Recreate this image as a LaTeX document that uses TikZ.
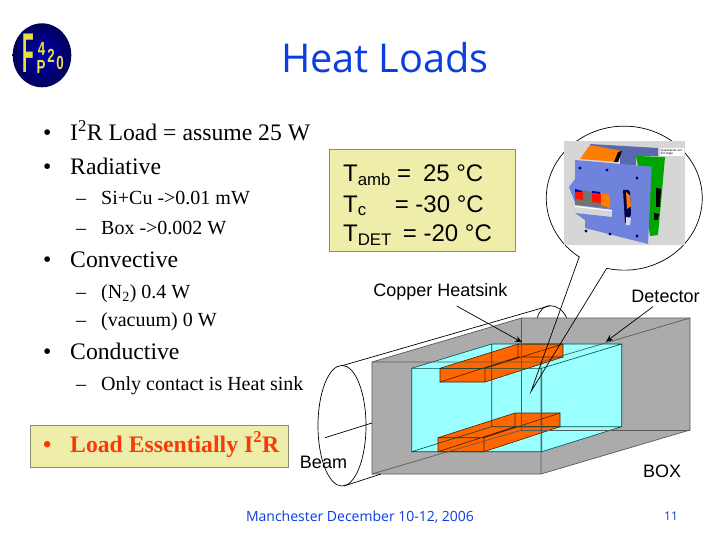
\documentclass[tikz,border=0pt]{standalone}
\usepackage{fontspec}
\setmainfont{Liberation Serif}
\setsansfont{Liberation Sans}
\newfontfamily\comicf{Open Sans}
\usetikzlibrary{arrows.meta}
\definecolor{boxgrey}{HTML}{ABABAB}
\definecolor{cyanf}{HTML}{99FFFF}
\definecolor{orangef}{HTML}{FF6600}
\definecolor{noteY}{HTML}{EEEEAA}
\definecolor{noteE}{HTML}{8C8C70}
\definecolor{titleblue}{HTML}{0B3EE0}
\definecolor{partblue}{HTML}{6F83DC}
\definecolor{loadred}{HTML}{F83A08}
\definecolor{logoy}{HTML}{E8E040}
\tikzset{
 bul/.style={anchor=base west,font=\fontsize{23.7}{26}\selectfont,inner sep=0pt},
 boldbul/.style={anchor=base west,font=\bfseries\fontsize{23.7}{26}\selectfont,inner sep=0pt,text=loadred},
 sub/.style={anchor=base west,font=\fontsize{20}{22}\selectfont,inner sep=0pt},
 lab/.style={anchor=base,font=\sffamily\fontsize{18}{20}\selectfont,inner sep=0pt},
 tmp/.style={anchor=base west,inner sep=0pt,font=\sffamily\fontsize{24}{26}\selectfont},
 logotxt/.style={inner sep=0pt,text=logoy,font=\sffamily\bfseries\fontsize{19}{19}\selectfont},
 edge/.style={draw=black!65,line width=.7pt},
 orng/.style={fill=orangef,draw=black!70!orangef,line width=.6pt},
 det/.style={draw=teal!60!black,line width=.6pt},
 arr/.style={-{Stealth[length=7pt,width=6pt]},line width=.7pt},
 wire/.style={line width=.7pt}
}
\begin{document}
\begin{tikzpicture}[x=1pt,y=-1pt]
\useasboundingbox (0,0) rectangle (720,540);
\fill[white] (0,0) rectangle (720,540);
% logo
\shade[inner color=blue!70!black,outer color=blue!35!black] (42,55.3) ellipse (29.3 and 32);
\node[logotxt] (logoF) at (28.5,53) {\scalebox{.34}[1]{\fontsize{56}{56}\selectfont F}};
\node[logotxt] (logoP) at (41,66.5) {\scalebox{.7}[1]{P}};
\node[logotxt] (logo4) at (41.5,49) {\scalebox{.7}[1]{4}};
\node[logotxt] (logo2) at (51,56) {\scalebox{.7}[1]{2}};
\node[logotxt] (logo0) at (60,62.5) {\scalebox{.7}[1]{0}};
% title + footer
\node[inner sep=0pt,anchor=base,text=titleblue,font=\comicf\fontsize{39.7}{42}\selectfont] (title) at (385,73) {Heat Loads};
\node[inner sep=0pt,anchor=base,text=titleblue,font=\comicf\fontsize{14}{16}\selectfont] (foot) at (360,521) {Manchester December 10-12, 2006};
\node[inner sep=0pt,anchor=base,text=titleblue,font=\comicf\fontsize{12}{14}\selectfont] (pg) at (671,520) {11};
% bullets
\foreach \y/\t in {141/{I\textsuperscript{2}R Load = assume 25 W},175/Radiative,267/Convective,359/Conductive}
  {\node[bul] at (43,\y) {•}; \node[bul] at (70,\y) {\t};}
\foreach \y/\t in {205/Si+Cu ->0.01 mW,234/Box ->0.002 W,298/(N\textsubscript{2}) 0.4 W,326/(vacuum) 0 W,390/Only contact is Heat sink}
  {\node[sub] at (76,\y) {–}; \node[sub] at (101,\y) {\t};}
% note boxes
\node[draw=noteE,fill=noteY,line width=1pt,minimum width=258pt,minimum height=42pt,inner sep=0pt] (load) at (159,446.7) {};
\node[boldbul] at (43,452) {•};
\node[boldbul] at (70,452) {Load Essentially I\textsuperscript{2}R};
\node[draw=noteE,fill=noteY,line width=1pt,minimum width=186.5pt,minimum height=102.5pt,inner sep=0pt] (temps) at (422.7,200.5) {};
\node[tmp] at (343,181.7) {T\textsubscript{amb}\hspace{6pt}=\hspace{12pt}25 °C};
\node[tmp] at (343,212) {T\textsubscript{c}\hspace{28pt}= -30 °C};
\node[tmp] at (343,241.7) {T\textsubscript{DET}\hspace{11pt}= -20 °C};
% cylinder rear arc
\draw[wire] (537.3,317.7) .. controls (540,309) and (545,305.7) .. (550,305.7) .. controls (557,305.7) and (563,310) .. (566.7,318);
% box
\fill[boxgrey] (372,362) -- (521.7,318) -- (690,318) -- (690,430) -- (541,474) -- (372,474) -- cycle;
% detector
\fill[cyanf] (411.7,368.3) -- (491.7,344) -- (621.7,344) -- (621.7,426.7) -- (541.7,451.7) -- (411.7,451.7) -- cycle;
% orange top
\filldraw[orng] (440,368.3) -- (518,344) -- (563,344) -- (563,357) -- (485,382) -- (440,382) -- cycle;
\draw[orng,fill=none] (440,368.3) -- (485,368.3) -- (563,344) (485,368.3) -- (485,382) (440,382) -- (518,357) -- (563,357) (518,344) -- (518,357);
% orange bottom
\filldraw[orng] (438,437.7) -- (515,413) -- (560,413) -- (560,426.7) -- (484,451.7) -- (438,451.7) -- cycle;
\draw[orng,fill=none] (438,437.7) -- (484,437.7) -- (560,413) (484,437.7) -- (484,451.7) (438,451.7) -- (515,426.7) -- (560,426.7) (515,413) -- (515,426.7);
% detector edges
\draw[det] (411.7,368.3) -- (491.7,344) -- (621.7,344) -- (621.7,426.7) -- (541.7,451.7) -- (411.7,451.7) -- cycle (491.7,344) -- (491.7,426.7) -- (621.7,426.7) (411.7,451.7) -- (491.7,426.7) (541.7,368.3) -- (621.7,344) (411.7,368.3) -- (541.7,368.3) -- (541.7,451.7);
% box edges
\draw[edge] (521.7,318) -- (690,318) -- (690,430) -- (541,474) -- (372,474) -- (372,362) -- cycle;
\draw[edge] (521.7,318) -- (521.7,430) -- (690,430);
\draw[edge] (372,474) -- (521.7,430);
\draw[edge] (372,362) -- (541,362) -- (690,318) (541,362) -- (541,474);
% cylinder
\draw[wire] (342,425.7) ellipse (24 and 60.3);
\coordinate (cylT) at (342,365.7);
\coordinate (cylTb) at (550,305.7);
\coordinate (cylB) at (344,486);
\coordinate (cylBb) at (381,474);
\draw[wire] (cylT) -- (cylTb);
\draw[wire] (cylB) -- (cylBb);
\coordinate (beamA) at (325,437.7);
\coordinate (beamB) at (372,423);
\draw[wire] (beamA) -- (beamB);
% labels
\node[lab] (cu) at (440.5,296.7) {Copper Heatsink};
\node[lab] (det) at (665.5,302) {Detector};
\node[lab] (beam) at (323.5,468) {Beam};
\node[lab] (boxl) at (662,477) {BOX};
\coordinate (cuT) at (522,342.3);
\coordinate (cuS) at (456.7,306);
\coordinate (detT) at (606,341.7);
\coordinate (detS) at (653,306.7);
\draw[arr] (cuS) -- (cuT);
\draw[arr] (detS) -- (detT);
% callout
\coordinate (tip) at (531,391.5);
\fill[white] (624,198) ellipse (78 and 72);
\draw[wire] (579.3,256.7) -- (tip) -- (606.7,268.3);
\draw[wire] (606.7,268.3) arc[start angle=103,end angle=-235,x radius=78,y radius=72];
% part image
\fill[black!16] (564.3,140.7) rectangle (685,245);
\fill[partblue!80!black] (590,144) -- (658,148) -- (658,156) -- (636,156) -- (636,165) -- (620,165) -- (620,155) -- (590,155) -- cycle;
\fill[orangef!85!yellow] (590,145) -- (622,151) -- (618,162) -- (580,159) -- cycle;
\fill[black] (618,152) -- (622,151) -- (618,162) -- (614,162) -- cycle;
\fill[green!65!black] (636,156) -- (665,157) -- (663,180) -- (658,235) -- (650,236) -- (645,200) -- cycle;
\fill[black] (656,188) -- (661,189) -- (660,207) -- (656,207) -- cycle;
\fill[black] (654,213) -- (659,214) -- (658,220) -- (654,220) -- cycle;
\fill[partblue] (575,160) -- (651.7,166.7) -- (648,244) -- (585,228) -- (585,220) -- (575,213) -- (612,217) -- (612,210) -- (576,205) -- (569,187) -- (575,179) -- cycle;
\fill[black!55] (575,189) -- (610,195) -- (610,208) -- (575,205) -- cycle;
\fill[white] (575,206) -- (612,210) -- (612,211) -- (575,207) -- cycle;
\fill[blue!75!black] (575,189) -- (582,191) -- (582,192) -- (575,192) -- cycle;
\fill[blue!75!black] (592,191) -- (600,192) -- (600,194) -- (592,193) -- cycle;
\fill[red!85!orange] (575,192) -- (583,192) -- (583,200) -- (575,199) -- cycle;
\fill[red!85!orange] (592,193) -- (601,194) -- (601,203) -- (592,202) -- cycle;
\fill[orangef!85!yellow] (601,193) -- (610,195) -- (610,208) -- (601,205) -- cycle;
\fill[black!70!blue] (623,190) -- (628,190) -- (630,192) -- (631,215) -- (625,223) -- cycle;
\fill[orangef!85!yellow] (626,192) -- (630,196) -- (631,206) -- (627,209) -- cycle;
\fill[white!70!partblue] (626,217) -- (631,218) -- (630,225) -- (626,225) -- cycle;
\foreach \p in {(580,168),(607,170),(637,178),(586,231),(610,234),(637,236)}
  \fill[black!50!blue] \p circle (1.6);
\node[anchor=west,inner sep=.5pt,align=left,font=\sffamily\fontsize{3}{3.5}\selectfont,fill=white] (ptxt) at (660,152) {Quadrupole corr.\\3/4 stage};
\end{tikzpicture}
\end{document}
